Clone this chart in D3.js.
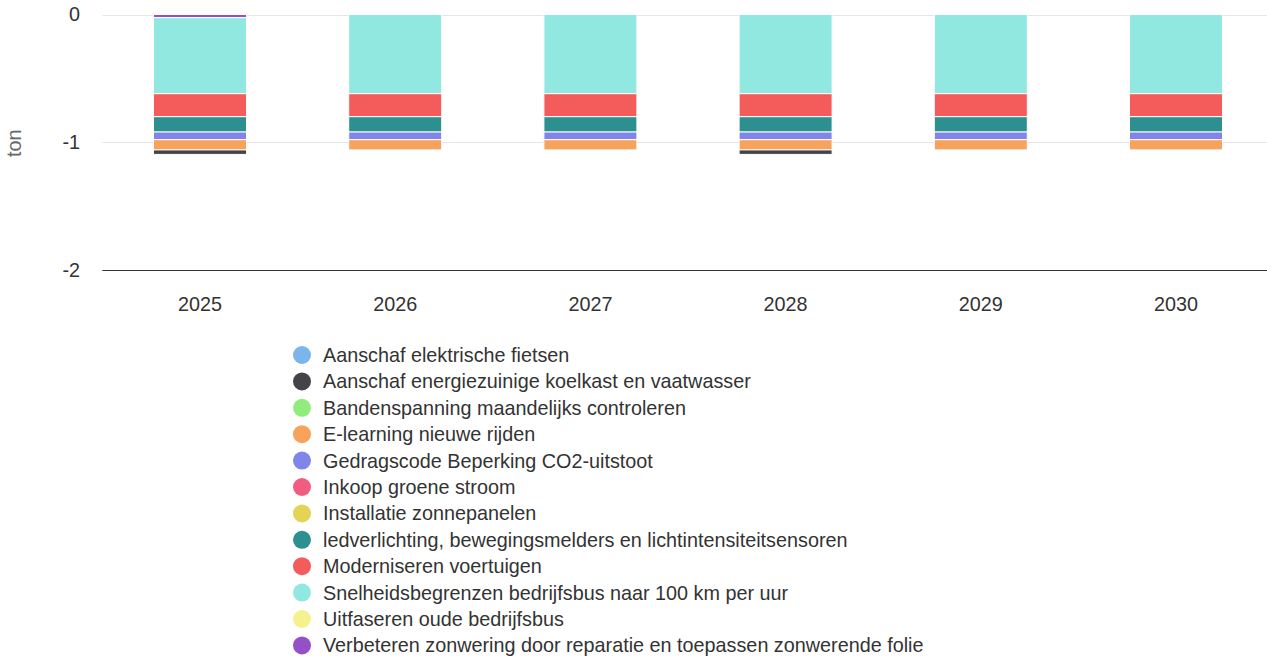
<!DOCTYPE html>
<html>
<head>
<meta charset="utf-8">
<script src="https://cdn.jsdelivr.net/npm/d3@7"></script>
<style>
  html, body { margin: 0; padding: 0; background: #fff; overflow: hidden; }
  svg { display: block; font-family: "Liberation Sans", Arial, Helvetica, sans-serif; }
</style>
</head>
<body>
<svg id="chart" width="1267" height="659"></svg>
<script>
// ---- data ----
const years = ["2025", "2026", "2027", "2028", "2029", "2030"];
const seriesNames = [
  "Aanschaf elektrische fietsen",
  "Aanschaf energiezuinige koelkast en vaatwasser",
  "Bandenspanning maandelijks controleren",
  "E-learning nieuwe rijden",
  "Gedragscode Beperking CO2-uitstoot",
  "Inkoop groene stroom",
  "Installatie zonnepanelen",
  "ledverlichting, bewegingsmelders en lichtintensiteitsensoren",
  "Moderniseren voertuigen",
  "Snelheidsbegrenzen bedrijfsbus naar 100 km per uur",
  "Uitfaseren oude bedrijfsbus",
  "Verbeteren zonwering door reparatie en toepassen zonwerende folie"
];
const seriesColors = ["#7cb5ec", "#434348", "#90ed7d", "#f7a35c", "#8085e9", "#f15c80",
  "#e4d354", "#2b908f", "#f45b5b", "#91e8e1", "#f5f18c", "#9550c8"];
// values per series (ton), one per year
const fietsen      = [0, 0, 0, 0, 0, 0];
const koelkast     = [-0.035, 0, 0, -0.035, 0, 0];
const banden       = [0, 0, 0, 0, 0, 0];
const elearning    = [-0.08, -0.08, -0.08, -0.08, -0.08, -0.08];
const gedragscode  = [-0.06, -0.06, -0.06, -0.06, -0.06, -0.06];
const groeneStroom = [0, 0, 0, 0, 0, 0];
const zonnepanelen = [0, 0, 0, 0, 0, 0];
const ledverlicht  = [-0.12, -0.12, -0.12, -0.12, -0.12, -0.12];
const moderniseren = [-0.18, -0.18, -0.18, -0.18, -0.18, -0.18];
const snelheid     = [-0.595, -0.62, -0.62, -0.62, -0.62, -0.62];
const uitfaseren   = [0, 0, 0, 0, 0, 0];
const zonwering    = [-0.025, 0, 0, 0, 0, 0];
const seriesValues = [fietsen, koelkast, banden, elearning, gedragscode, groeneStroom,
  zonnepanelen, ledverlicht, moderniseren, snelheid, uitfaseren, zonwering];
const yTicks = [0, -1, -2];
const yTitle = "ton";

// ---- layout ----
const svg = d3.select("#chart");
const plotLeft = 102.4, plotRight = 1273.6, plotTop = 14.5, plotBottom = 270;
const fs = 19.8;

const x = d3.scaleBand().domain(years).range([plotLeft, plotRight]).paddingInner(0).paddingOuter(0);
const y = d3.scaleLinear().domain([-2, 0]).range([plotBottom, plotTop]);
const barW = 93;

// gridlines
svg.append("g").selectAll("line").data(yTicks.filter(d => d !== -2)).join("line")
  .attr("x1", plotLeft).attr("x2", 1267)
  .attr("y1", d => Math.round(y(d)) + 0.5).attr("y2", d => Math.round(y(d)) + 0.5)
  .attr("stroke", "#e6e6e6").attr("stroke-width", 1);

// y tick labels
svg.append("g").selectAll("text").data(yTicks).join("text")
  .attr("x", 80).attr("y", d => y(d)).attr("dy", "0.35em")
  .attr("text-anchor", "end").attr("fill", "#333").attr("font-size", fs)
  .text(d => d);

// y title
svg.append("text")
  .attr("transform", `translate(21,${(plotTop + plotBottom) / 2 + 1}) rotate(-90)`)
  .attr("text-anchor", "middle").attr("fill", "#666").attr("font-size", fs)
  .text(yTitle);

// stacked bars: last series closest to zero
const stackOrder = d3.range(seriesNames.length).reverse();
const gBars = svg.append("g");
years.forEach((yr, j) => {
  let cum = 0;
  stackOrder.forEach(i => {
    const v = seriesValues[i][j];
    if (v === 0) return;
    const y0 = cum, y1 = cum + v;
    cum = y1;
    gBars.append("rect")
      .attr("x", x(yr) + x.bandwidth() / 2 - barW / 2)
      .attr("width", barW)
      .attr("y", y(y0))
      .attr("height", y(y1) - y(y0))
      .attr("fill", seriesColors[i])
      .attr("stroke", "#fff").attr("stroke-width", 1);
  });
});

// x axis line
svg.append("line")
  .attr("x1", plotLeft).attr("x2", 1267)
  .attr("y1", plotBottom + 0.5).attr("y2", plotBottom + 0.5)
  .attr("stroke", "#333").attr("stroke-width", 1);

// x labels
svg.append("g").selectAll("text").data(years).join("text")
  .attr("x", d => x(d) + x.bandwidth() / 2).attr("y", plotBottom + 34)
  .attr("dy", "0.35em").attr("text-anchor", "middle")
  .attr("fill", "#333").attr("font-size", fs)
  .text(d => d);

// legend
const legend = svg.append("g");
seriesNames.forEach((name, i) => {
  const cy = 355 + i * 26.4;
  legend.append("circle").attr("cx", 302).attr("cy", cy).attr("r", 9).attr("fill", seriesColors[i]);
  legend.append("text").attr("x", 323).attr("y", cy).attr("dy", "0.35em")
    .attr("fill", "#333").attr("font-size", fs).text(name);
});
</script>
</body>
</html>
